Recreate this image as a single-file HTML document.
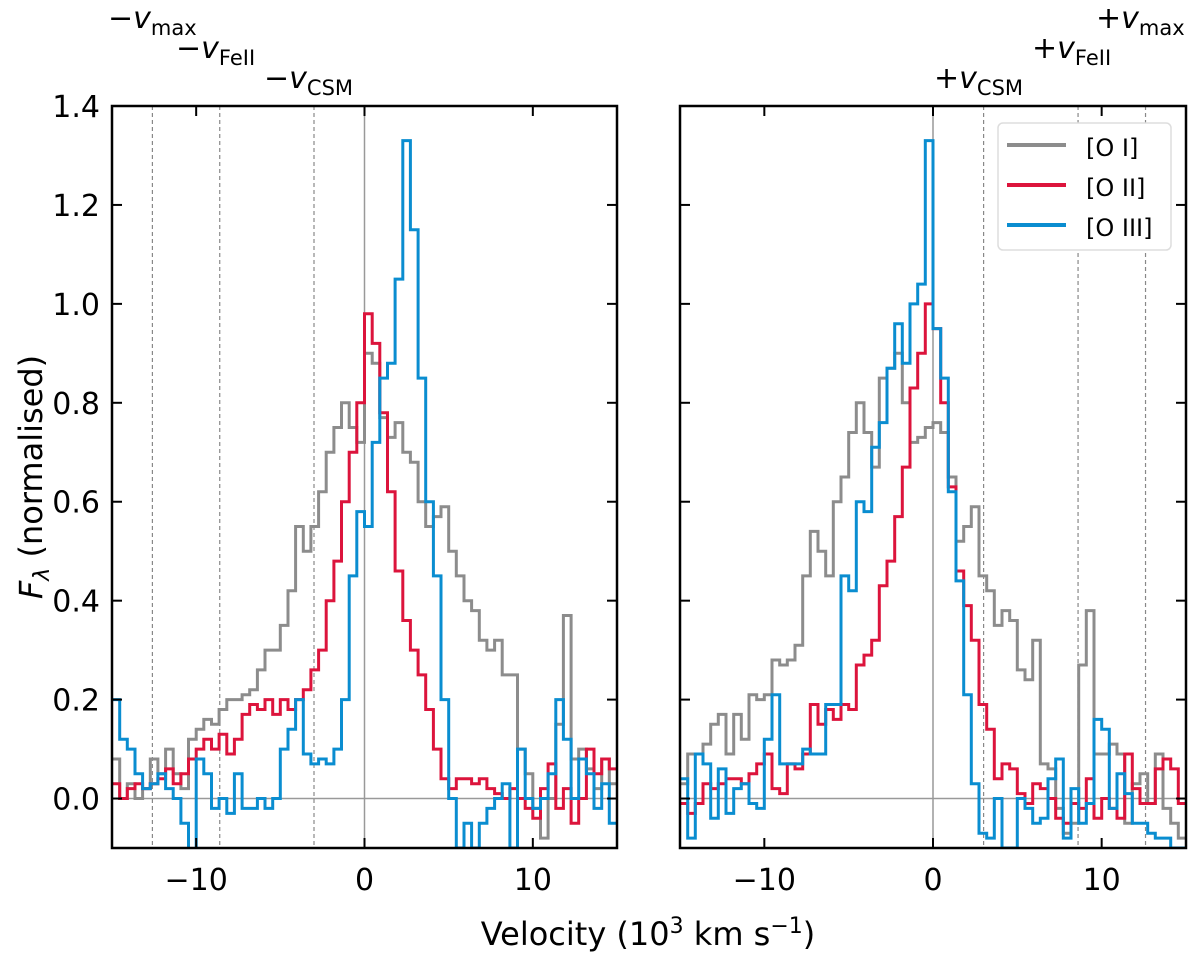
<!DOCTYPE html>
<html><head><meta charset="utf-8"><style>
body{margin:0;background:#fff;}
svg text{font-family:"DejaVu Sans","Liberation Sans",sans-serif;fill:#000;}
</style></head><body>
<svg id="chart" width="1200" height="958" xmlns="http://www.w3.org/2000/svg"></svg>
<script>
// left panel series (bins from -15 to +15)
const leftOI  =[0.08,0.0,0.03,0.0,0.02,0.08,0.05,0.1,0.05,0.02,0.12,0.14,0.16,0.15,0.18,0.2,0.2,0.21,0.22,0.26,0.3,0.3,0.35,0.42,0.55,0.5,0.55,0.62,0.7,0.75,0.8,0.75,0.72,0.9,0.88,0.77,0.73,0.76,0.7,0.68,0.6,0.55,0.57,0.59,0.5,0.45,0.4,0.38,0.32,0.3,0.32,0.25,0.25,0.1,0.05,-0.02,-0.08,0.0,0.15,0.37,0.08,0.1,0.06,0.02,0.08,0.03];
const leftOII =[0.03,0.0,0.02,0.03,0.02,0.03,0.04,0.06,0.03,0.05,0.08,0.1,0.12,0.1,0.13,0.09,0.12,0.17,0.19,0.18,0.2,0.17,0.2,0.18,0.2,0.22,0.26,0.3,0.4,0.48,0.6,0.7,0.8,0.98,0.92,0.78,0.62,0.46,0.36,0.3,0.25,0.18,0.1,0.04,0.02,0.04,0.04,0.03,0.04,0.02,0.01,0.0,0.02,0.0,-0.02,-0.04,0.02,0.07,-0.02,0.02,-0.05,0.0,0.1,0.05,0.08,0.06];
const leftOIII=[0.2,0.12,0.1,0.05,0.02,0.03,0.05,0.02,0.0,-0.05,-0.12,0.08,0.05,-0.02,0.0,-0.03,0.05,-0.02,-0.02,0.0,-0.02,0.0,0.1,0.14,0.2,0.09,0.07,0.08,0.07,0.1,0.2,0.45,0.58,0.55,0.72,0.85,0.88,1.05,1.33,1.15,0.85,0.6,0.45,0.2,0.0,-0.1,-0.05,-0.1,-0.05,-0.02,0.0,0.03,-0.1,0.1,0.0,-0.02,0.0,0.05,0.2,0.12,0.0,0.08,0.05,-0.02,0.03,-0.05];
// right panel series
const rightOI  =[0.03,0.09,0.09,0.11,0.15,0.17,0.09,0.17,0.12,0.21,0.2,0.21,0.28,0.27,0.28,0.31,0.45,0.54,0.5,0.45,0.6,0.65,0.74,0.8,0.74,0.67,0.85,0.87,0.9,0.8,0.72,0.73,0.75,0.76,0.74,0.65,0.52,0.55,0.59,0.45,0.42,0.35,0.38,0.36,0.26,0.24,0.32,0.07,0.06,-0.02,-0.07,-0.05,0.27,0.38,0.09,0.09,0.11,0.09,-0.05,0.03,0.05,-0.01,0.09,-0.02,-0.05,-0.08];
const rightOII =[-0.01,-0.03,-0.01,0.03,0.02,0.03,0.04,0.04,0.03,0.05,0.07,0.09,0.02,0.01,0.07,0.06,0.09,0.19,0.15,0.18,0.16,0.19,0.18,0.27,0.29,0.32,0.43,0.48,0.57,0.67,0.83,0.9,1.0,0.95,0.8,0.63,0.46,0.39,0.32,0.19,0.14,0.04,0.07,0.06,0.01,-0.01,0.03,0.02,0.0,-0.04,-0.05,-0.01,-0.02,0.04,-0.04,0.0,-0.02,-0.04,0.09,0.02,-0.01,-0.01,0.06,0.08,0.06,-0.01];
const rightOIII=[0.04,-0.08,0.09,0.07,-0.04,0.06,-0.03,0.02,0.03,-0.01,-0.02,0.12,0.21,0.07,0.07,0.07,0.1,0.09,0.09,0.19,0.19,0.45,0.42,0.6,0.58,0.71,0.76,0.87,0.96,0.88,1.0,1.04,1.33,0.95,0.85,0.62,0.44,0.21,0.03,-0.07,-0.08,0.0,-0.1,-0.1,0.0,-0.02,-0.05,-0.04,0.04,0.08,-0.08,0.02,-0.05,-0.01,0.16,0.14,-0.02,0.05,0.01,-0.05,-0.05,-0.07,-0.08,-0.08,-0.1,-0.1];
const seriesNames=['[O I]','[O II]','[O III]'];
const seriesColors=['#8c8c8c','#dc143c','#0a8dd0'];
const xTicks=[-10,0,10];
const yTicks=[0.0,0.2,0.4,0.6,0.8,1.0,1.2,1.4];
const markerVel=[12.6,8.6,3.0];
const markerNames=['max','FeII','CSM'];
const NB=leftOI.length, vMin=-15, vMax=15, bw=(vMax-vMin)/NB;
const binEdges=[];for(let i=0;i<NB;i++)binEdges.push(vMin+i*bw);

const NS='http://www.w3.org/2000/svg';
const svgEl=document.getElementById('chart');
function mk(tag,attrs,parent){const e=document.createElementNS(NS,tag);for(const k in attrs)e.setAttribute(k,attrs[k]);(parent||svgEl).appendChild(e);return e;}
const yTop=106,yBot=848,yMin=-0.1,yMax=1.4;
const Y=v=>yBot-(v-yMin)/(yMax-yMin)*(yBot-yTop);
const panels=[{x0:112,x1:617,sign:-1,name:'left-panel',data:[leftOI,leftOII,leftOIII]},{x0:680,x1:1186,sign:1,name:'right-panel',data:[rightOI,rightOII,rightOIII]}];
panels.forEach((p,pi)=>{
  const X=v=>p.x0+(v-vMin)/(vMax-vMin)*(p.x1-p.x0);
  const g=mk('g',{});
  
  
  const clipId='clip'+pi;
  const cp=mk('clipPath',{id:clipId},g);mk('rect',{x:p.x0,y:yTop,width:p.x1-p.x0,height:yBot-yTop},cp);
  const zh=mk('line',{x1:p.x0,x2:p.x1,y1:Y(0),y2:Y(0),stroke:'#999','stroke-width':1.5},g);
  
  
  const zv=mk('line',{x1:X(0),x2:X(0),y1:yTop,y2:yBot,stroke:'#999','stroke-width':1.5},g);
  
  
  markerVel.forEach((mv,mi)=>{
    const l=mk('line',{x1:X(mv*p.sign),x2:X(mv*p.sign),y1:yTop,y2:yBot,stroke:'#888','stroke-width':1.2,'stroke-dasharray':'4,3'},g);
    
    
  });
  p.data.forEach((arr,si)=>{
    let d='';
    for(let i=0;i<arr.length;i++){
      const xa=X(binEdges[i]),xb=X(binEdges[i]+bw),y=Y(arr[i]);
      d+=(i===0?'M':'L')+xa.toFixed(1)+','+y.toFixed(1)+'L'+xb.toFixed(1)+','+y.toFixed(1);
    }
    const path=mk('path',{d:d,fill:'none',stroke:seriesColors[si],'stroke-width':3,'clip-path':'url(#'+clipId+')'},g);
    
    
  });
  const fr=mk('rect',{x:p.x0,y:yTop,width:p.x1-p.x0,height:yBot-yTop,fill:'none',stroke:'#000','stroke-width':2.5},g);
  
  
  xTicks.forEach(t=>{
    const x=X(t);
    mk('line',{x1:x,x2:x,y1:yBot,y2:yBot-10,stroke:'#000','stroke-width':2},g);
    mk('line',{x1:x,x2:x,y1:yTop,y2:yTop+10,stroke:'#000','stroke-width':2},g);
    const tx=mk('text',{x:x,y:yBot+42,'text-anchor':'middle','font-size':30},g);
    tx.textContent=(t<0?'\u2212':'')+Math.abs(t);
    
    
  });
  yTicks.forEach(t=>{
    const y=Y(t);
    mk('line',{x1:p.x0,x2:p.x0+10,y1:y,y2:y,stroke:'#000','stroke-width':2},g);
    mk('line',{x1:p.x1,x2:p.x1-10,y1:y,y2:y,stroke:'#000','stroke-width':2},g);
    if(pi===0){
      const tx=mk('text',{x:p.x0-12,y:y+11,'text-anchor':'end','font-size':30},g);
      tx.textContent=t.toFixed(1);
      
      
    }
  });
});
</script>
<svg style="position:absolute;left:0;top:0" width="1200" height="958" xmlns="http://www.w3.org/2000/svg">
<g font-family="DejaVu Sans, Liberation Sans, sans-serif">
<text x="108" y="28" font-size="30">−<tspan font-style="italic">v</tspan><tspan font-size="21" dy="7">max</tspan></text>
<text x="176" y="58" font-size="30">−<tspan font-style="italic">v</tspan><tspan font-size="21" dy="7">FeII</tspan></text>
<text x="264" y="88" font-size="30">−<tspan font-style="italic">v</tspan><tspan font-size="21" dy="7">CSM</tspan></text>
<text x="934" y="88" font-size="30">+<tspan font-style="italic">v</tspan><tspan font-size="21" dy="7">CSM</tspan></text>
<text x="1032" y="58" font-size="30">+<tspan font-style="italic">v</tspan><tspan font-size="21" dy="7">FeII</tspan></text>
<text x="1096" y="28" font-size="30">+<tspan font-style="italic">v</tspan><tspan font-size="21" dy="7">max</tspan></text>
<text x="648" y="945" font-size="32" text-anchor="middle">Velocity (10<tspan font-size="22" dy="-12">3</tspan><tspan dy="12"> km s</tspan><tspan font-size="22" dy="-12">−1</tspan><tspan dy="12">)</tspan></text>
<text transform="translate(42,477) rotate(-90)" font-size="32" text-anchor="middle"><tspan font-style="italic">F</tspan><tspan font-size="22" font-style="italic" dy="7">λ</tspan><tspan dy="-7"> (normalised)</tspan></text>
<g>
<rect x="998" y="123" width="173" height="127" rx="5" fill="#fff" stroke="#ddd" stroke-width="1.5"/>
<line x1="1007" x2="1066" y1="145" y2="145" stroke="#8c8c8c" stroke-width="4"/>
<text x="1086" y="156" font-size="24">[O I]</text>
<line x1="1007" x2="1066" y1="185" y2="185" stroke="#dc143c" stroke-width="4"/>
<text x="1086" y="196" font-size="24">[O II]</text>
<line x1="1007" x2="1066" y1="225" y2="225" stroke="#0a8dd0" stroke-width="4"/>
<text x="1086" y="236" font-size="24">[O III]</text>
</g>
</g>
</svg>
</body></html>
